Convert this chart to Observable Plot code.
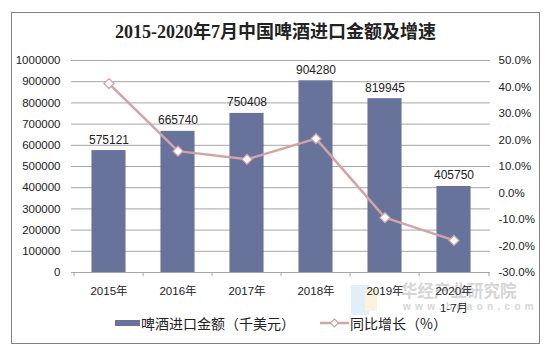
<!DOCTYPE html>
<html>
<head>
<meta charset="utf-8">
<script src="https://cdn.jsdelivr.net/npm/d3@7"></script>
<script src="https://cdn.jsdelivr.net/npm/@observablehq/plot@0.6"></script>
<style>
  html, body { margin: 0; padding: 0; background: #fff; }
  #wrap { position: relative; width: 551px; height: 352px; overflow: hidden;
          font-family: "Liberation Sans", Arial, "Noto Sans CJK SC", sans-serif; }
  #frame { position: absolute; left: 11px; top: 12px; width: 527px; height: 330px;
           border: 1px solid #808080; }
  #title { position: absolute; left: 0; top: 20px; width: 551px; text-align: center;
           font-family: "Liberation Serif", "Times New Roman", "Noto Sans CJK SC", serif;
           font-weight: bold; font-size: 18px; line-height: 24px; color: #222; z-index: 3; }
  #wm { position: absolute; left: 401px; top: 278px; z-index: 1; color: #d6d6d6; }
  #wm .a { font-family: "Noto Sans CJK SC", sans-serif; font-weight: bold; font-size: 16.5px; line-height: 24px; }
  #wm .b { font-family: "Liberation Sans", Arial, sans-serif; font-weight: bold; font-size: 10px; letter-spacing: 4.3px; line-height: 12px; margin-top: -1px; padding-left: 2px; }
  #logo { position: absolute; left: 351px; top: 285px; width: 18px; height: 30px; background: #e3eefb; z-index: 1; }
  #logo2 { position: absolute; left: 365px; top: 289px; width: 12px; height: 22px; background: #fbf4dc; z-index: 1; }
  #chart { position: absolute; left: 0; top: 0; z-index: 2; }
  #legend { position: absolute; left: 0; top: 312px; width: 551px; z-index: 3;
            font-family: "Noto Sans CJK SC", sans-serif; font-size: 14px; color: #222; }
  #legend .item { position: absolute; top: 0; display: flex; align-items: center; height: 22px; white-space: nowrap; }
</style>
</head>
<body>
<div id="wrap">
  <div id="frame"></div>
  <div id="logo"></div><div id="logo2"></div>
  <div id="wm"><div class="a">华经产业研究院</div><div class="b">www.huaon.com</div></div>
  <div id="title">2015-2020年7月中国啤酒进口金额及增速</div>
  <div id="chart"></div>
  <div id="legend">
    <div class="item" style="left:115px"><svg width="26" height="22"><rect x="0" y="8" width="25" height="6" fill="#67739a"></rect></svg><span>啤酒进口金额（千美元）</span></div>
    <div class="item" style="left:320px"><svg width="30" height="22"><line x1="0" y1="11" x2="29" y2="11" stroke="#d4a3a3" stroke-width="2.5"></line><path d="M14.5,7 L18.5,11 L14.5,15 L10.5,11 Z" fill="#fff" stroke="#d4a3a3" stroke-width="1.2"></path></svg><span>同比增长（%）</span></div>
  </div>
</div>
<script>
const categories = ["2015年", "2016年", "2017年", "2018年", "2019年", "2020年\n1-7月"];
const importValue = [575121, 665740, 750408, 904280, 819945, 405750];
const growthPct = [41.3, 15.8, 12.7, 20.5, -9.3, -17.9];
const leftTicks = [0, 100000, 200000, 300000, 400000, 500000, 600000, 700000, 800000, 900000, 1000000];
const rightTicks = [-30, -20, -10, 0, 10, 20, 30, 40, 50];
const rightTickLabels = ["-30.0%", "-20.0%", "-10.0%", "0.0%", "10.0%", "20.0%", "30.0%", "40.0%", "50.0%"];

const pMin = -30, pMax = 50, yMax = 1000000;
const toY = p => (p - pMin) / (pMax - pMin) * yMax;

const bars = categories.map((c, i) => ({cat: c, value: importValue[i]}));
const line = categories.map((c, i) => ({cat: c, y: toY(growthPct[i])}));

const W = 551, H = 352, mL = 71, mR = 61;
const bw = (W - mL - mR) / categories.length;

const font = "Liberation Sans, Arial, Noto Sans CJK SC, sans-serif";
const chart = Plot.plot({
  width: W, height: H,
  marginTop: 60, marginBottom: 80, marginLeft: mL, marginRight: mR,
  style: {background: "transparent", fontFamily: font, fontSize: "11.5px", color: "#222"},
  x: {domain: categories, padding: 0, axis: null},
  y: {domain: [0, yMax], axis: null},
  marks: [
    Plot.gridY(leftTicks, {stroke: "#a6a6a6", strokeOpacity: 1, strokeWidth: 1}),
    Plot.axisY(leftTicks, {anchor: "left", tickSize: 0, tickPadding: 11, tickFormat: d3.format("d"), label: null, fontSize: 11.5, fill: "#222"}),
    Plot.axisY(rightTicks.map(toY), {anchor: "right", tickSize: 0, tickPadding: 8, tickFormat: (d, i) => rightTickLabels[i], label: null, fontSize: 11.5, fill: "#222"}),
    Plot.barY(bars, {x: "cat", y: "value", fill: "#67739a", insetLeft: bw / 4, insetRight: bw / 4}),
    Plot.text(bars, {x: "cat", y: "value", text: d => String(d.value), lineAnchor: "bottom", dy: -7, fontSize: 12, fill: "#222"}),
    Plot.ruleY([0], {stroke: "#a6a6a6"}),
    Plot.ruleX(categories, {x: d => d, dx: -bw / 2, y1: 0, y2: -20000, stroke: "#a6a6a6"}),
    Plot.ruleX(categories.slice(-1), {x: d => d, dx: bw / 2, y1: 0, y2: -20000, stroke: "#a6a6a6"}),
    Plot.axisX({tickSize: 0, tickPadding: 11, label: null, fontSize: 11.5, fill: "#222", lineHeight: 1.45}),
    Plot.line(line, {x: "cat", y: "y", stroke: "#d4a3a3", strokeWidth: 2.5}),
    Plot.dot(line, {x: "cat", y: "y", symbol: "diamond2", r: 4.5, fill: "#fff", stroke: "#d4a3a3", strokeWidth: 1.3})
  ]
});
document.getElementById("chart").appendChild(chart);
</script>
</body>
</html>
